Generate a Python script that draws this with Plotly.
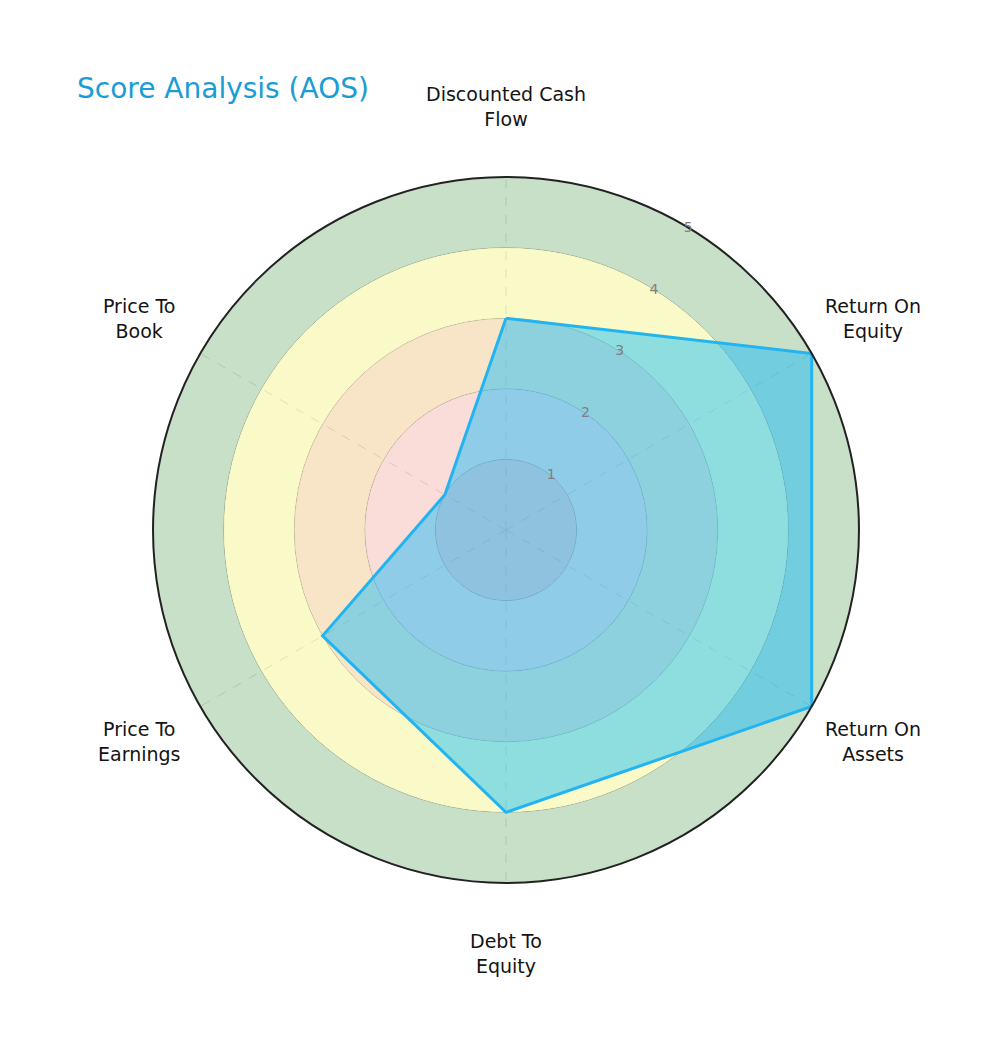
import math
import plotly.graph_objects as go

categories = ["Discounted Cash Flow", "Return On Equity", "Return On Assets",
              "Debt To Equity", "Price To Earnings", "Price To Book"]
label_text = ["Discounted Cash<br>Flow", "Return On<br>Equity", "Return On<br>Assets",
              "Debt To<br>Equity", "Price To<br>Earnings", "Price To<br>Book"]
scores = [3, 5, 5, 4, 3, 1]

band_starts = [0, 1, 2, 3, 4]
band_widths = [1, 1, 1, 1, 1]
band_colors = ["#fbc2be", "#f9d6d1", "#f7e1be", "#f9f9be", "#bed9be"]

radial_ticks = [1, 2, 3, 4, 5]
r_max = 5
label_r = 6

W, H = 1000, 1051
dom_x = [0.145, 0.851]
dom_y = [0.1675, 0.8392]

fig = go.Figure()

for b0, bw, col in zip(band_starts, band_widths, band_colors):
    fig.add_trace(go.Barpolar(
        r=[bw], base=[b0], theta=[categories[0]],
        width=[len(categories)],
        marker=dict(color=col, line=dict(width=0), opacity=0.85),
        hoverinfo="skip", showlegend=False))

fig.add_trace(go.Scatterpolar(
    r=scores + scores[:1], theta=categories + categories[:1],
    mode="lines", fill="toself",
    fillcolor="rgba(0,183,252,0.43)",
    line=dict(color="#22b4f0", width=3),
    showlegend=False, hoverinfo="skip"))

# category labels placed around the polar area
cx = (dom_x[0] + dom_x[1]) / 2
cy = (dom_y[0] + dom_y[1]) / 2
R_px = (dom_x[1] - dom_x[0]) * W / 2
annotations = []
n = len(categories)
for i, txt in enumerate(label_text):
    ang = math.radians(90 - i * 360 / n)
    rp = R_px * label_r / r_max
    annotations.append(dict(
        x=cx + rp * math.cos(ang) / W, y=cy + rp * math.sin(ang) / H,
        xref="paper", yref="paper", text=txt, showarrow=False,
        xanchor="center", yanchor="middle", align="center",
        font=dict(family="DejaVu Sans", size=19, color="#141414")))

fig.update_layout(
    width=W, height=H,
    paper_bgcolor="white",
    margin=dict(l=0, r=0, t=0, b=0),
    font=dict(family="DejaVu Sans"),
    title=dict(text="Score Analysis (AOS)", x=0.069, xanchor="left",
               y=1 - 80 / H, yanchor="middle",
               font=dict(family="DejaVu Sans", size=28, color="#1a9cd4")),
    annotations=annotations,
    polar=dict(
        domain=dict(x=dom_x, y=dom_y),
        bgcolor="white",
        radialaxis=dict(range=[0, r_max], tickvals=radial_ticks, showline=False,
                        ticks="", angle=61, tickangle=61,
                        tickfont=dict(size=14, color="#7f7f7f"),
                        gridcolor="#555555", gridwidth=1),
        angularaxis=dict(rotation=90, direction="clockwise",
                         showticklabels=False, ticks="",
                         showline=True, linecolor="#222222", linewidth=2,
                         gridcolor="#555555", griddash="dash", gridwidth=1),
    ),
)

fig.write_html("out.html")
